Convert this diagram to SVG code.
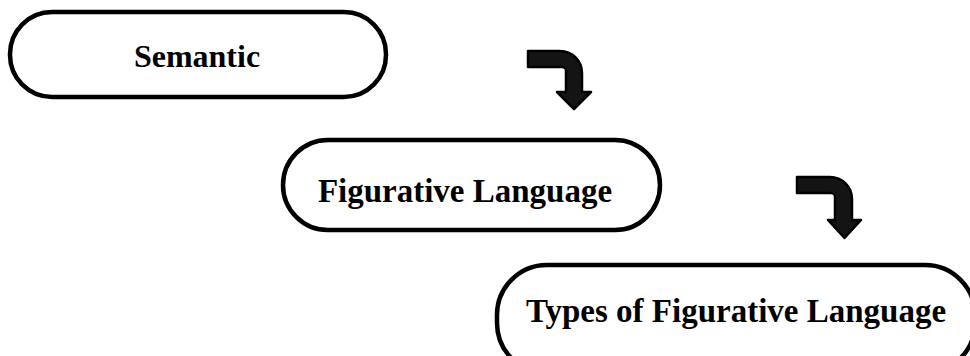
<svg xmlns="http://www.w3.org/2000/svg" width="970" height="356" viewBox="0 0 970 356">
<style>
.box{fill:#fff;stroke:#000;stroke-width:4.5}
.lbl{font-family:"Liberation Serif","Times New Roman",serif;font-weight:bold;font-size:32px;fill:#000;text-anchor:middle}
.big{font-size:33px}
.arr{fill:#141414;stroke:#000;stroke-width:2.5;stroke-linejoin:round}
</style>
<rect width="970" height="356" fill="#fff"/>
<g id="node-semantic">
<rect class="box" x="10" y="12" width="376" height="85" rx="42" ry="42"/>
<text class="lbl" x="197" y="67">Semantic</text>
</g>
<g id="node-figurative">
<rect class="box" x="283" y="140" width="377" height="90" rx="45" ry="45"/>
<text class="lbl big" x="465" y="202">Figurative Language</text>
</g>
<g id="node-types">
<rect class="box" x="497" y="265" width="478" height="108" rx="50" ry="50"/>
<text class="lbl big" x="736" y="322">Types of Figurative Language</text>
</g>
<g id="connectors">
<path class="arr" d="M528,51 L560,51 A22,22 0 0 1 582,73 L582,92 L591,92 L574,109 L557,92 L566,92 L566,71 A4,4 0 0 0 562,67 L528,67 Z"/>
<path class="arr" d="M797,177 L830,177 A22,22 0 0 1 852,199 L852,220 L861,220 L844.5,238 L828,220 L835,220 L835,197 A4,4 0 0 0 831,193 L797,193 Z"/>
</g>
</svg>
